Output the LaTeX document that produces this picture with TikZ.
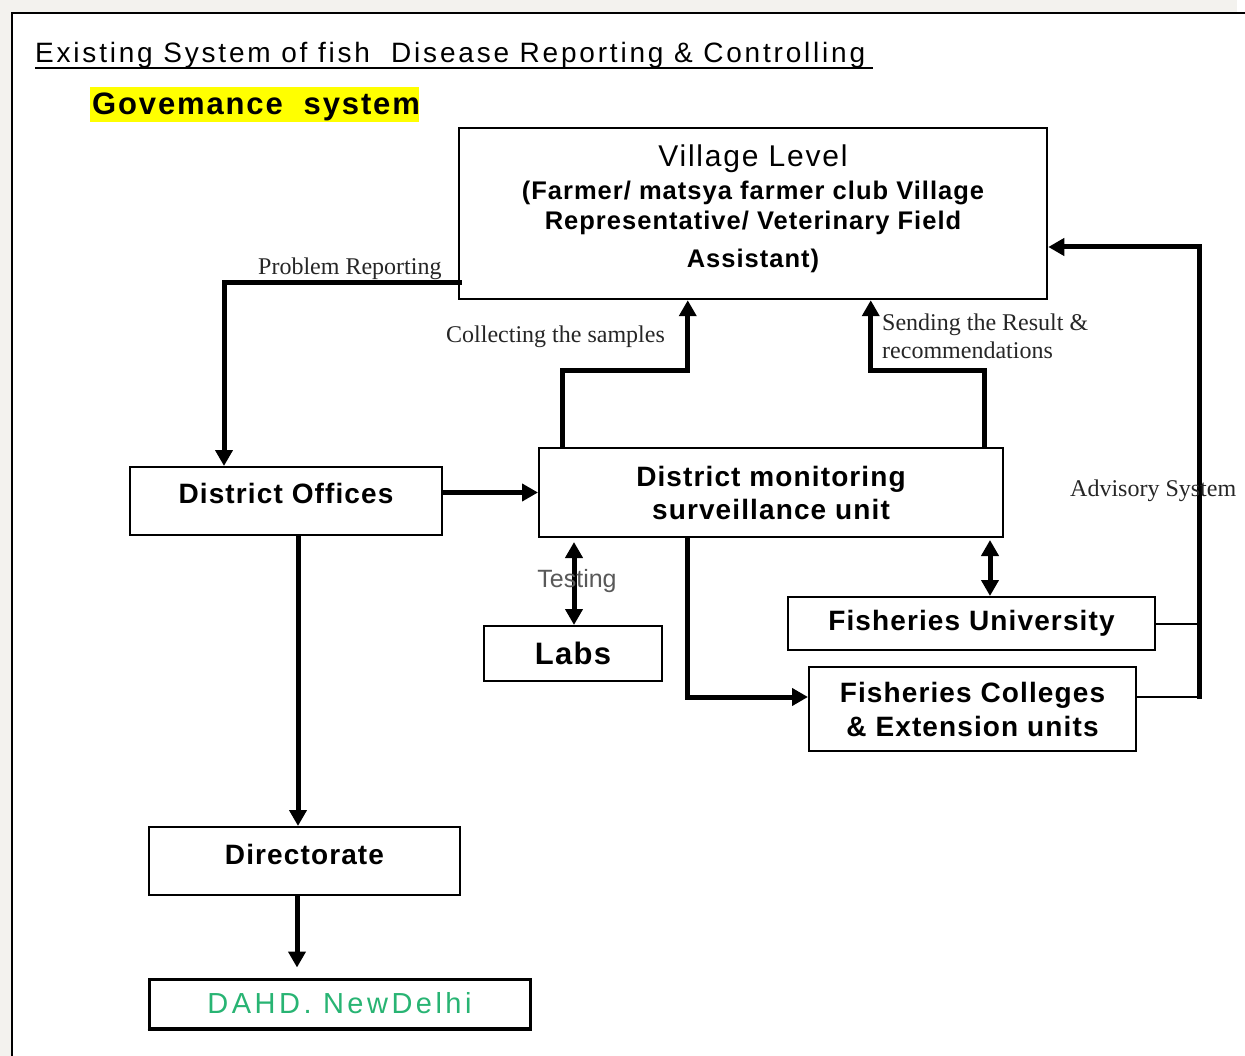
\documentclass[tikz,border=0pt]{standalone}
\usepackage{fontspec}
\setmainfont{Liberation Sans}
\newfontfamily\seriflbl{Liberation Serif}
\newfontfamily\ttlfont[LetterSpace=10]{Liberation Sans}
\newfontfamily\bxfont[LetterSpace=4]{Liberation Sans}
\newfontfamily\lvfont[LetterSpace=6]{Liberation Sans}
\newfontfamily\dahdfont[LetterSpace=12]{Liberation Sans}
\usetikzlibrary{arrows.meta}
\definecolor{bggray}{RGB}{243,242,238}
\definecolor{hiyel}{RGB}{255,255,0}
\definecolor{dahdgreen}{RGB}{40,180,115}
\begin{document}
\begin{tikzpicture}[x=1pt,y=-1pt,
  box/.style={draw=black, line width=2pt, inner sep=0pt, align=center,
    font=\bxfont\bfseries\fontsize{28}{34}\selectfont},
  arr/.style={line width=5pt, -{Triangle[length=16pt,width=17pt]}},
  dbl/.style={line width=5pt, {Triangle[length=16pt,width=17pt]}-{Triangle[length=16pt,width=17pt]}},
  thinl/.style={line width=2pt},
  lbl/.style={font=\seriflbl\fontsize{24}{27}\selectfont, inner sep=0pt, text=black!85},
]
\useasboundingbox (0,0) rectangle (1245,1056);
% frame
\fill[bggray] (0,0) rectangle (1245,1056);
\fill[white] (11,12) rectangle (1245,1056);
\fill[white] (1237,0) rectangle (1245,12);
\draw[line width=2.5pt] (12,1056) -- (12,13) -- (1245,13);

% title
\node[anchor=base west, inner sep=0pt, font=\ttlfont\fontsize{28}{32}\selectfont] (title) at (35,63)
  {Existing System of fish\ \ Disease Reporting \& Controlling};
\draw[line width=2pt] (35,68) -- (873,68);

% governance
\fill[hiyel] (90,87) rectangle (419,122);
\node[anchor=base west, inner sep=0pt, font=\lvfont\bfseries\fontsize{31}{36}\selectfont] (gov) at (92,115)
  {Govemance\ \ system};

% boxes
\node[box, minimum width=588pt, minimum height=171pt, line width=2.5pt,
      font=\bxfont\bfseries\fontsize{25.5}{30}\selectfont] (village) at (753,213.5)
  {{\lvfont\mdseries\fontsize{30}{34}\selectfont Village Level}\\[3pt]
   (Farmer/ matsya farmer club Village\\
   Representative/ Veterinary Field\\[8pt]
   Assistant)\rule[-14pt]{0pt}{1pt}};
\node[box, minimum width=312pt, minimum height=68pt, text height=20pt, text depth=16pt] (dOff) at (286,501) {District Offices};
\node[box, minimum width=464pt, minimum height=89pt] (dmsu) at (771,492.5) {District monitoring\\[-1pt]surveillance unit};
\node[box, minimum width=178pt, minimum height=55pt, font=\bxfont\bfseries\fontsize{31}{36}\selectfont] (labs) at (573,653.5) {Labs};
\node[box, minimum width=367pt, minimum height=53pt] (fu) at (971.5,623.5) {Fisheries University};
\node[box, minimum width=327pt, minimum height=84pt] (fc) at (972.5,709) {Fisheries Colleges\\\& Extension units};
\node[box, minimum width=311pt, minimum height=68pt, text height=20pt, text depth=14pt] (dir) at (304.5,861) {Directorate};
\node[box, minimum width=381pt, minimum height=49pt, line width=3pt,
      font=\dahdfont\fontsize{29}{34}\selectfont, text=dahdgreen] (dahd) at (339.5,1003.5) {DAHD. NewDelhi};
\draw[line width=2pt] (dahd.south west) -- (dahd.south east);

% connectors
\draw[arr] ([shift={(4,-18)}]village.south west) -| ([xshift=95pt]dOff.north west);
\draw[arr] (dOff.east |- dmsu.west) -- (dmsu.west);
\draw[arr] ([xshift=24pt]dmsu.north west) -- ++(0,-76) -| ([xshift=230pt]village.south west);
\draw[arr] ([xshift=-20pt]dmsu.north east) -- ++(0,-76) -| ([xshift=413pt]village.south west);
\draw[dbl, shorten >=4pt] ([xshift=1pt]labs.north) -- ([xshift=1pt]labs.north |- dmsu.south);
\draw[dbl, shorten >=2pt] ([xshift=18.5pt]fu.north) -- ([xshift=18.5pt]fu.north |- dmsu.south);
\draw[arr] ([xshift=149pt]dmsu.south west) |- ([shift={(0,-12)}]fc.west);
\coordinate (adv) at (1199,697);
\draw[thinl] (fu.east) -- (fu.east -| adv);
\draw[thinl] ([shift={(0,-12)}]fc.east) -- (adv);
\draw[arr] ([shift={(0,1.5)}]adv) |- ([shift={(0,33.5)}]village.east);
\draw[arr] ([xshift=12pt]dOff.south) -- ([xshift=12pt]dOff.south |- dir.north);
\draw[arr, shorten >=10pt] ([xshift=-7.5pt]dir.south) -- ([xshift=-7.5pt]dir.south |- dahd.north);

% labels
\node[lbl, anchor=base west] (lpr) at (258,275) {Problem Reporting};
\node[lbl, anchor=base west] (lcs) at (446,343) {Collecting the samples};
\node[lbl, anchor=base west] (lsr1) at (882,331) {Sending the Result \&};
\node[lbl, anchor=base west] (lsr2) at (882,359) {recommendations};
\node[lbl, anchor=base west] (ladv) at (1070,496) {Advisory System};
\node[inner sep=0pt, font=\fontsize{25}{30}\selectfont, text=black!65] (ltest) at (577,581) {Testing};
\end{tikzpicture}
\end{document}
